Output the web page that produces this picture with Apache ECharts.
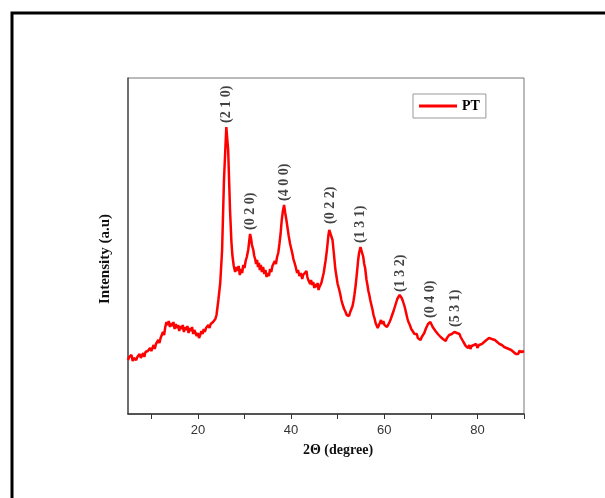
<!DOCTYPE html>
<html>
<head>
<meta charset="utf-8">
<script src="https://cdn.jsdelivr.net/npm/echarts@6/dist/echarts.min.js"></script>
<style>
  html, body { margin: 0; padding: 0; background: #fff; }
  #chart { width: 605px; height: 498px; }
</style>
</head>
<body>
<div id="chart"></div>
<script>
// XRD pattern of PT: [2θ (degree), intensity (a.u.)]
const pattern = [
  [5.00, 54], [5.25, 57], [5.50, 55], [5.75, 59], [6.00, 53], [6.25, 56], [6.50, 58], [6.75, 54], [7.00, 57], [7.25, 55],
  [7.50, 60], [7.75, 56], [8.00, 58], [8.25, 61], [8.50, 57], [8.75, 62], [9.00, 60], [9.25, 63], [9.50, 61], [9.75, 66],
  [10.00, 63], [10.25, 65], [10.50, 69], [10.75, 65], [11.00, 70], [11.25, 68], [11.50, 74], [11.75, 71], [12.00, 76], [12.25, 74],
  [12.50, 82], [12.75, 79], [13.00, 87], [13.25, 92], [13.50, 89], [13.75, 93], [14.00, 87], [14.25, 91], [14.50, 88], [14.75, 92],
  [15.00, 85], [15.25, 90], [15.50, 86], [15.75, 89], [16.00, 83], [16.25, 88], [16.50, 85], [16.75, 89], [17.00, 82], [17.25, 87],
  [17.50, 84], [17.75, 88], [18.00, 81], [18.25, 86], [18.50, 83], [18.75, 87], [19.00, 80], [19.25, 84], [19.50, 82], [19.75, 78],
  [20.00, 81], [20.25, 76], [20.50, 79], [20.75, 83], [21.00, 80], [21.25, 85], [21.50, 82], [21.75, 86], [22.00, 84], [22.25, 89],
  [22.50, 86], [22.75, 90], [23.00, 88], [23.25, 92], [23.50, 90], [23.75, 95], [24.00, 99], [24.40, 114], [24.80, 131], [25.20, 164],
  [25.60, 234], [26.10, 287], [26.50, 264], [26.90, 204], [27.20, 172], [27.40, 159], [27.70, 148], [28.00, 142], [28.25, 147], [28.50, 143],
  [28.75, 148], [29.00, 139], [29.25, 145], [29.50, 141], [29.75, 149], [30.00, 146], [30.25, 153], [30.50, 157], [30.80, 164], [31.00, 172],
  [31.20, 180], [31.40, 176], [31.60, 169], [31.90, 164], [32.10, 158], [32.30, 155], [32.50, 150], [32.70, 154], [32.90, 147], [33.10, 151],
  [33.30, 144], [33.50, 149], [33.75, 142], [34.00, 147], [34.25, 140], [34.50, 144], [34.75, 137], [35.00, 141], [35.25, 138], [35.50, 145],
  [35.75, 142], [36.00, 148], [36.25, 146], [36.50, 153], [36.75, 150], [37.00, 157], [37.25, 161], [37.50, 170], [37.75, 180], [38.00, 194],
  [38.25, 203], [38.50, 209], [38.75, 201], [39.00, 194], [39.25, 186], [39.50, 178], [39.80, 170], [40.00, 166], [40.30, 160], [40.50, 155],
  [40.70, 152], [41.00, 147], [41.30, 141], [41.50, 144], [41.80, 138], [42.10, 141], [42.40, 135], [42.60, 139], [42.80, 137], [43.00, 141],
  [43.30, 143], [43.50, 137], [43.70, 134], [43.90, 136], [44.10, 130], [44.30, 134], [44.50, 129], [44.75, 132], [45.00, 126], [45.25, 130],
  [45.50, 127], [45.70, 131], [45.90, 124], [46.10, 127], [46.30, 126], [46.50, 131], [46.70, 135], [47.00, 141], [47.20, 147], [47.40, 153],
  [47.70, 164], [48.00, 178], [48.20, 184], [48.40, 186], [48.60, 183], [48.90, 174], [49.20, 160], [49.50, 145], [49.80, 136], [50.00, 130],
  [50.30, 125], [50.60, 119], [50.80, 114], [51.10, 109], [51.40, 105], [51.70, 102], [51.95, 99], [52.20, 101], [52.45, 98], [52.70, 102],
  [52.95, 104], [53.20, 108], [53.40, 113], [53.60, 119], [53.90, 130], [54.20, 144], [54.40, 154], [54.60, 161], [54.90, 167], [55.20, 162],
  [55.50, 157], [55.70, 150], [55.90, 146], [56.20, 134], [56.40, 129], [56.60, 123], [56.80, 119], [57.00, 114], [57.25, 109], [57.50, 104],
  [57.70, 99], [57.90, 96], [58.15, 91], [58.40, 89], [58.60, 86], [58.80, 88], [59.05, 91], [59.30, 94], [59.55, 90], [59.80, 93],
  [60.05, 89], [60.30, 91], [60.60, 87], [60.90, 89], [61.15, 92], [61.40, 95], [61.70, 99], [62.00, 103], [62.20, 106], [62.40, 109],
  [62.60, 112], [62.80, 115], [63.10, 116], [63.30, 119], [63.50, 118], [63.75, 116], [64.00, 113], [64.20, 110], [64.40, 107], [64.60, 103],
  [64.80, 99], [65.00, 95], [65.20, 92], [65.50, 89], [65.80, 85], [66.10, 83], [66.50, 80], [66.80, 78], [67.00, 80], [67.20, 76],
  [67.50, 77], [67.80, 74], [68.05, 77], [68.30, 79], [68.60, 81], [68.90, 85], [69.15, 87], [69.40, 90], [69.65, 89], [69.90, 92],
  [70.15, 90], [70.40, 87], [70.70, 86], [71.00, 83], [71.25, 85], [71.50, 80], [71.80, 81], [72.10, 77], [72.35, 79], [72.60, 75],
  [72.90, 77], [73.20, 73], [73.45, 76], [73.70, 75], [73.95, 79], [74.20, 77], [74.50, 80], [74.80, 79], [75.05, 82], [75.30, 83],
  [75.60, 81], [75.90, 79], [76.15, 80], [76.40, 77], [76.70, 75], [77.00, 72], [77.25, 70], [77.50, 68], [77.75, 70], [78.00, 66],
  [78.25, 69], [78.50, 65], [78.75, 68], [79.00, 66], [79.25, 69], [79.50, 67], [79.75, 70], [80.00, 66], [80.35, 69], [80.70, 67],
  [80.95, 70], [81.20, 69], [81.45, 72], [81.70, 71], [81.95, 74], [82.20, 73], [82.50, 76], [82.80, 77], [83.10, 75], [83.50, 77],
  [83.75, 74], [84.00, 75], [84.25, 72], [84.50, 73], [84.75, 70], [85.00, 72], [85.25, 69], [85.50, 70], [85.75, 67], [86.00, 69],
  [86.25, 66], [86.50, 68], [86.75, 65], [87.00, 67], [87.25, 64], [87.50, 65], [87.75, 62], [88.00, 63], [88.25, 60], [88.50, 62],
  [88.75, 60], [89.00, 63], [89.25, 61], [89.50, 62], [89.75, 64], [90.00, 63]
];

// Indexed reflections (Miller indices) and their peak positions
const peakLabels = ['(2 1 0)', '(0 2 0)', '(4 0 0)', '(0 2 2)', '(1 3 1)', '(1 3 2)', '(0 4 0)', '(5 3 1)'];
const peakTheta = [26.1, 31.2, 38.5, 48.4, 54.9, 63.5, 69.9, 75.3];
const peakIntensity = [287, 180, 209, 186, 167, 118, 92, 83];

const xTicks = [10, 20, 30, 40, 50, 60, 70, 80, 90];
const xTickLabels = [20, 40, 60, 80];

const serif = '"Liberation Serif", "Times New Roman", serif';
const sans = '"Liberation Sans", Arial, sans-serif';

const chart = echarts.init(document.getElementById('chart'), null, { renderer: 'canvas' });

chart.setOption({
  animation: false,
  backgroundColor: '#fff',
  graphic: [
    {
      // outer frame around the figure
      type: 'rect',
      shape: { x: 12, y: 13, width: 700, height: 600 },
      style: { fill: 'none', stroke: '#000', lineWidth: 3 },
      silent: true
    },
    {
      type: 'text',
      x: 105, y: 259,
      rotation: Math.PI / 2,
      style: {
        text: 'Intensity (a.u)',
        fontFamily: serif, fontWeight: 'bold', fontSize: 15, fill: '#111',
        align: 'center', verticalAlign: 'middle'
      },
      silent: true
    },
    {
      type: 'text',
      x: 338, y: 450,
      style: {
        text: '2Θ (degree)',
        fontFamily: serif, fontWeight: 'bold', fontSize: 14, fill: '#111',
        align: 'center', verticalAlign: 'middle'
      },
      silent: true
    }
  ],
  grid: {
    left: 128, right: 81, top: 78, bottom: 84,
    show: true, borderColor: '#777', borderWidth: 1, backgroundColor: 'transparent'
  },
  legend: {
    data: ['PT'],
    left: 413, top: 94,
    padding: [5, 6],
    borderColor: '#999', borderWidth: 1,
    itemWidth: 38, itemHeight: 3,
    icon: 'rect',
    itemGap: 4,
    textStyle: { fontFamily: serif, fontWeight: 'bold', fontSize: 14, color: '#000' }
  },
  xAxis: {
    type: 'value',
    min: 5, max: 90,
    axisLine: { show: true, onZero: false, lineStyle: { color: '#333', width: 1.5 } },
    axisTick: { show: true, inside: false, length: 5, customValues: xTicks, lineStyle: { color: '#333' } },
    axisLabel: { customValues: xTickLabels, margin: 10, fontFamily: sans, fontSize: 13, color: '#333' },
    splitLine: { show: false }
  },
  yAxis: {
    type: 'value',
    min: 0, max: 336,
    axisLine: { show: true, lineStyle: { color: '#555', width: 1.5 } },
    axisTick: { show: false },
    axisLabel: { show: false },
    splitLine: { show: false }
  },
  series: [
    {
      name: 'PT',
      type: 'line',
      data: pattern,
      showSymbol: false,
      symbol: 'none',
      color: '#ff0000',
      lineStyle: { color: '#ff0000', width: 2.5 },
      z: 3
    },
    {
      name: 'reflections',
      type: 'scatter',
      data: peakTheta.map((t, i) => ({ value: [t, peakIntensity[i]], name: peakLabels[i] })),
      symbolSize: 0,
      silent: true,
      label: {
        show: true,
        position: 'top',
        distance: 4,
        rotate: 90,
        align: 'left',
        verticalAlign: 'middle',
        formatter: p => p.name,
        fontFamily: serif,
        fontWeight: 'bold',
        fontSize: 14,
        color: '#111'
      },
      z: 4
    }
  ]
});
</script>
</body>
</html>
